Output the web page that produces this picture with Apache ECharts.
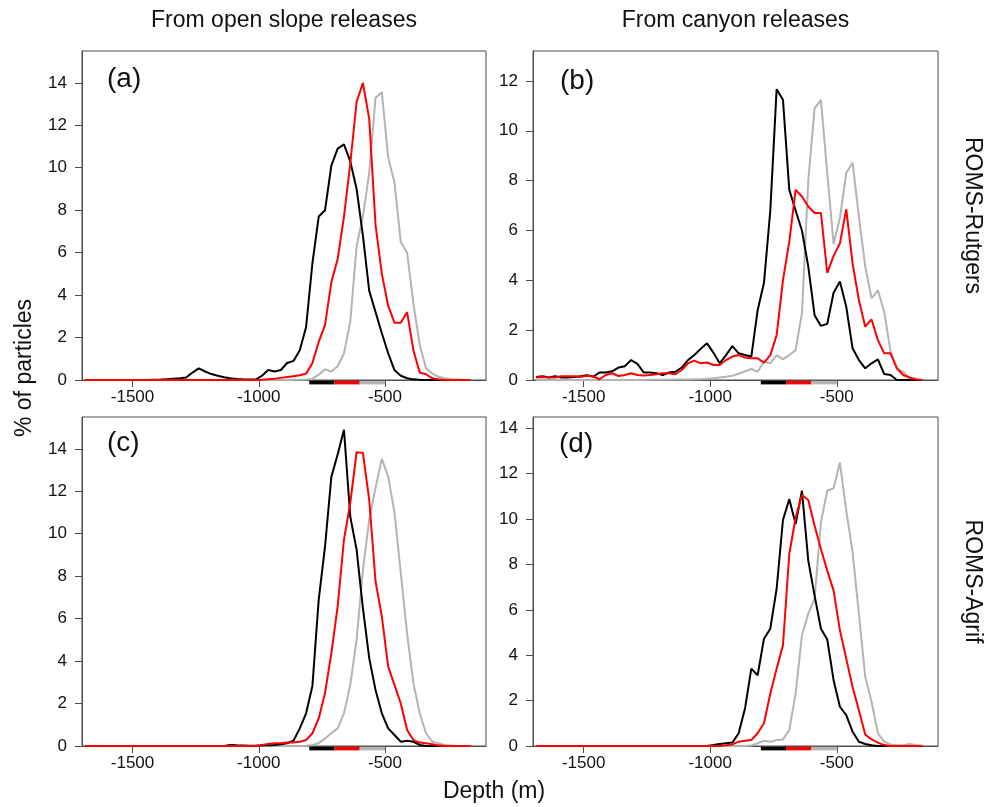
<!DOCTYPE html>
<html>
<head>
<meta charset="utf-8">
<script src="https://cdn.jsdelivr.net/npm/echarts@6/dist/echarts.min.js"></script>
<style>
html,body{margin:0;padding:0;background:#fff;}
#chart{width:988px;height:807px;}
</style>
</head>
<body>
<div id="chart"></div>
<script>
// Bin-centre depths (m), 25 m bins
const depths = [
 -1687.5,-1662.5,-1637.5,-1612.5,-1587.5,-1562.5,-1537.5,-1512.5,-1487.5,-1462.5,
 -1437.5,-1412.5,-1387.5,-1362.5,-1337.5,-1312.5,-1287.5,-1262.5,-1237.5,-1212.5,
 -1187.5,-1162.5,-1137.5,-1112.5,-1087.5,-1062.5,-1037.5,-1012.5,-987.5,-962.5,
 -937.5,-912.5,-887.5,-862.5,-837.5,-812.5,-787.5,-762.5,-737.5,-712.5,
 -687.5,-662.5,-637.5,-612.5,-587.5,-562.5,-537.5,-512.5,-487.5,-462.5,
 -437.5,-412.5,-387.5,-362.5,-337.5,-312.5,-287.5,-262.5,-237.5,-212.5,
 -187.5,-162.5
];

// (a) ROMS-Rutgers, open slope releases
const aBlack = [
 0,0,0,0,0,0,0,0,0,0,
 0,0.01,0.02,0.04,0.06,0.08,0.12,0.35,0.55,0.4,
 0.28,0.2,0.13,0.08,0.05,0.03,0.02,0.02,0.2,0.47,
 0.4,0.47,0.8,0.9,1.4,2.5,5.5,7.7,8.0,10.1,
 10.9,11.1,10.3,9.0,6.8,4.2,3.2,2.2,1.26,0.47,
 0.2,0.08,0.03,0.01,0,0,0,0,0,0,
 0,0
];
const aRed = [
 0,0,0,0,0,0,0,0,0,0,
 0,0,0,0,0,0,0,0,0,0,
 0,0,0,0,0,0,0,0,0.01,0.03,
 0.06,0.1,0.14,0.18,0.22,0.3,0.8,1.8,2.6,4.6,
 5.7,7.7,10.2,13.1,14.0,12.3,7.3,5.0,3.5,2.7,
 2.7,3.2,1.4,0.35,0.27,0.08,0.03,0,0,0,
 0,0
];
const aGray = [
 0,0,0,0,0,0,0,0,0,0,
 0,0,0,0,0,0,0,0,0,0,
 0,0,0,0,0,0,0,0,0,0,
 0,0,0,0.01,0.01,0.02,0.05,0.25,0.5,0.4,
 0.65,1.25,2.75,6.3,7.7,9.75,13.3,13.55,10.5,9.3,
 6.5,6.0,3.6,1.65,0.55,0.3,0.15,0.08,0.04,0.02,
 0,0
];

// (b) ROMS-Rutgers, canyon releases
const bBlack = [
 0.12,0.15,0.1,0.15,0.1,0.1,0.12,0.15,0.19,0.13,
 0.3,0.3,0.35,0.5,0.55,0.8,0.65,0.3,0.3,0.27,
 0.2,0.3,0.33,0.5,0.8,1.0,1.25,1.47,1.1,0.67,
 1.0,1.36,1.07,1.0,0.94,2.8,3.9,6.8,11.67,11.24,
 7.63,6.8,6.0,4.55,2.6,2.17,2.25,3.5,3.95,2.94,
 1.27,0.8,0.47,0.67,0.83,0.24,0.2,0,0,0,
 0,0
];
const bRed = [
 0.1,0.12,0.1,0.1,0.15,0.15,0.15,0.12,0.17,0.15,
 0.03,0.2,0.27,0.16,0.2,0.27,0.2,0.18,0.2,0.23,
 0.27,0.27,0.23,0.4,0.67,0.78,0.67,0.7,0.6,0.6,
 0.8,0.94,1.0,0.9,0.87,0.87,0.7,1.0,1.8,4.0,
 5.55,7.63,7.36,6.96,6.7,6.7,4.3,4.98,5.48,6.85,
 4.68,3.2,2.14,2.43,1.6,1.07,1.07,0.47,0.2,0.1,
 0.03,0
];
const bGray = [
 0,0,0,0,0,0,0,0,0,0,
 0,0,0,0,0,0,0,0,0.01,0.01,
 0.01,0.01,0.02,0.02,0.02,0.03,0.03,0.05,0.07,0.1,
 0.13,0.17,0.25,0.35,0.44,0.33,0.73,0.67,1.0,0.83,
 1.0,1.2,2.68,8.0,10.9,11.24,8.3,5.46,6.5,8.3,
 8.72,6.55,4.55,3.28,3.6,2.74,1.14,0.47,0.33,0.07,
 0,0
];

// (c) ROMS-Agrif, open slope releases
const cBlack = [
 0,0,0,0,0,0,0,0,0,0,
 0,0,0,0,0,0,0,0,0,0,
 0,0,0,0.05,0.03,0.02,0.01,0.01,0.02,0.03,
 0.05,0.08,0.13,0.25,0.83,1.54,2.83,6.9,9.4,12.68,
 13.73,14.9,10.8,9.25,6.5,4.14,2.64,1.54,0.83,0.52,
 0.2,0.25,0.2,0.05,0,0,0,0,0,0,
 0,0
];
const cRed = [
 0,0,0,0,0,0,0,0,0,0,
 0,0,0,0,0,0,0,0,0,0,
 0,0,0,0,0,0,0,0,0.05,0.1,
 0.13,0.13,0.16,0.16,0.2,0.28,0.6,1.3,2.5,4.37,
 6.58,9.72,11.45,13.84,13.81,11.6,7.76,6.1,3.74,2.88,
 2.0,0.75,0.28,0.16,0.13,0.08,0.03,0,0,0,
 0,0
];
const cGray = [
 0,0,0,0,0,0,0,0,0,0,
 0,0,0,0,0,0,0,0,0,0,
 0,0,0,0,0,0,0,0,0,0,
 0,0,0,0,0,0.01,0.05,0.13,0.36,0.6,
 0.83,1.54,2.88,5.0,8.3,10.67,12.16,13.53,12.7,11.0,
 8.15,5.3,2.96,1.54,0.6,0.2,0.13,0.05,0.02,0,
 0,0
];

// (d) ROMS-Agrif, canyon releases
const dBlack = [
 0,0,0,0,0,0,0,0,0,0,
 0,0,0,0,0,0,0,0,0,0,
 0,0,0,0,0,0,0,0,0.04,0.09,
 0.12,0.15,0.56,1.65,3.41,3.12,4.73,5.17,6.93,9.96,
 10.88,9.78,11.25,8.17,6.63,5.17,4.69,2.9,1.73,1.36,
 0.63,0.19,0.09,0.03,0,0,0,0,0,0,
 0,0
];
const dRed = [
 0,0,0,0,0,0,0,0,0,0,
 0,0,0,0,0,0,0,0,0,0,
 0,0,0,0,0,0,0,0,0,0,
 0.03,0.07,0.19,0.23,0.26,0.56,1.0,2.31,3.41,4.44,
 8.46,10.07,11.06,10.84,9.71,8.68,7.73,6.85,5.1,3.85,
 2.6,1.58,0.51,0.29,0.15,0.04,0,0,0,0,
 0,0
];
const dGray = [
 0,0,0,0,0,0,0,0,0,0,
 0,0,0,0,0,0,0,0,0,0,
 0,0,0,0,0,0,0,0,0,0,
 0,0,0,0,0.02,0.12,0.23,0.19,0.26,0.29,
 0.7,2.31,4.88,5.83,6.49,9.86,11.25,11.36,12.49,10.37,
 8.54,5.83,3.05,1.95,0.56,0.19,0.07,0.04,0.03,0.09,
 0.04,0.01
];

// Release depth ranges (m) shown under each x axis
const releaseRanges = [[-800,-700],[-700,-600],[-600,-500]];

const xTicks = [-1500,-1000,-500];
const yTicksA = [0,2,4,6,8,10,12,14];
const yTicksB = [0,2,4,6,8,10,12];
const yTicksC = [0,2,4,6,8,10,12,14];
const yTicksD = [0,2,4,6,8,10,12,14];
const yMax = [15.5, 13.2, 15.5, 14.5];
const panelLetters = ['(a)','(b)','(c)','(d)'];
const colTitles = ['From open slope releases','From canyon releases'];
const rowTitles = ['ROMS-Rutgers','ROMS-Agrif'];

const COL_BLACK = '#000000', COL_RED = '#ff0000', COL_GRAY = '#b4b4b4';
const releaseColors = [COL_BLACK, COL_RED, COL_GRAY];
const FONT = '"Liberation Sans", Arial, Helvetica, sans-serif';
const AX = '#4d4d4d';

const panels = [
  {black:aBlack, red:aRed, gray:aGray, yt:yTicksA},
  {black:bBlack, red:bRed, gray:bGray, yt:yTicksB},
  {black:cBlack, red:cRed, gray:cGray, yt:yTicksC},
  {black:dBlack, red:dRed, gray:dGray, yt:yTicksD}
];
const gridPos = [
  {left:82, top:51, width:404, height:329},
  {left:533, top:51, width:405, height:329},
  {left:82, top:417, width:404, height:329},
  {left:533, top:417, width:405, height:329}
];

const zip = arr => depths.map((d,i)=>[d, arr[i]]);
const plainNum = v => String(v);

const grids = [], xAxes = [], yAxes = [], series = [];
panels.forEach((p, i) => {
  grids.push(Object.assign({show:true, borderColor:AX, borderWidth:1, backgroundColor:'transparent', containLabel:false}, gridPos[i]));
  xAxes.push({
    type:'value', gridIndex:i, min:-1700, max:-100,
    axisLine:{show:true, lineStyle:{color:AX, width:1}},
    axisTick:{show:true, inside:false, length:7, lineStyle:{color:AX, width:1}, customValues:xTicks},
    axisLabel:{show:true, customValues:xTicks, formatter:plainNum, fontSize:17, color:'#111', fontFamily:FONT, margin:9},
    splitLine:{show:false}
  });
  yAxes.push({
    type:'value', gridIndex:i, min:0, max:yMax[i],
    axisLine:{show:true, lineStyle:{color:AX, width:1}},
    axisTick:{show:true, inside:false, length:7, lineStyle:{color:AX, width:1}, customValues:p.yt},
    axisLabel:{show:true, customValues:p.yt, formatter:plainNum, fontSize:17, color:'#111', fontFamily:FONT, margin:15},
    splitLine:{show:false}
  });
  [['gray',COL_GRAY],['black',COL_BLACK],['red',COL_RED]].forEach(([k,c]) => {
    series.push({
      type:'line', xAxisIndex:i, yAxisIndex:i, data:zip(p[k]),
      symbol:'none', smooth:false, animation:false,
      lineStyle:{color:c, width:2}, itemStyle:{color:c}, z:3
    });
  });
  series.push({
    type:'custom', xAxisIndex:i, yAxisIndex:i, clip:false, animation:false, z:5,
    data: releaseRanges.map((r,j)=>[r[0], r[1], 0, j]),
    encode:{x:[0,1], y:2},
    renderItem:(params, api) => {
      const p0 = api.coord([api.value(0), 0]);
      const p1 = api.coord([api.value(1), 0]);
      return {type:'rect', shape:{x:p0[0], y:p0[1]+0.8, width:p1[0]-p0[0], height:3.6},
              style:{fill:releaseColors[api.value(3)]}};
    }
  });
});

const txt = (text, x, y, size, rot) => ({
  type:'text', x:x, y:y, rotation:rot||0, silent:true, z:10,
  style:{text:text, fill:'#111', font: size+'px '+FONT, align:'center', verticalAlign:'middle'}
});
const letterTxt = (text, x, y) => ({
  type:'text', x:x, y:y, silent:true, z:10,
  style:{text:text, fill:'#111', font:'28px '+FONT, align:'left', verticalAlign:'middle'}
});

const graphics = [
  txt(colTitles[0], 284, 21, 23),
  txt(colTitles[1], 735.5, 21, 23),
  txt(rowTitles[0], 972, 215.5, 23, -Math.PI/2),
  txt(rowTitles[1], 972, 581.5, 23, -Math.PI/2),
  txt('% of particles', 25, 368, 23, Math.PI/2),
  txt('Depth (m)', 494, 792, 23),
  letterTxt(panelLetters[0], 107, 79),
  letterTxt(panelLetters[1], 560, 81),
  letterTxt(panelLetters[2], 107, 443),
  letterTxt(panelLetters[3], 559, 444)
];

const chart = echarts.init(document.getElementById('chart'), null, {renderer:'canvas'});
chart.setOption({
  animation:false,
  backgroundColor:'#ffffff',
  grid:grids, xAxis:xAxes, yAxis:yAxes, series:series,
  graphic:graphics
});
</script>
</body>
</html>
